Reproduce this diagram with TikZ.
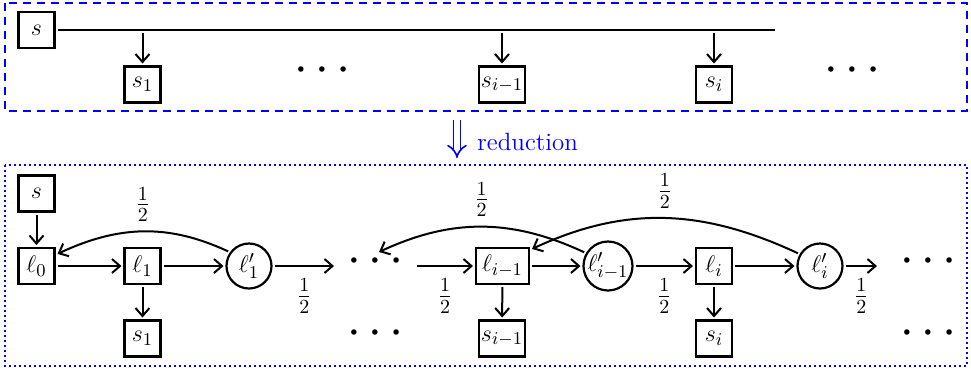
\documentclass[tikz,border=0pt]{standalone}
\usetikzlibrary{arrows.meta}
\definecolor{frameblue}{RGB}{0,0,255}
\newcommand{\mydots}{\mbox{\fontsize{6.5}{7}\selectfont$\bullet$\hspace{6.75pt}$\bullet$\hspace{6.75pt}$\bullet$}}
\begin{document}
\begin{tikzpicture}[x=0.5pt,y=-0.5pt,
  every node/.style={font=\fontsize{12.5}{14}\selectfont},
  sq/.style={draw, line width=1.1pt, minimum size=18pt, inner sep=1pt, outer sep=1.5pt},
  cir/.style={draw, circle, line width=1.1pt, minimum size=22.5pt, inner sep=0pt, outer sep=1.5pt},
  dotsnode/.style={inner sep=0pt},
  arr/.style={-{Straight Barb[length=4pt,width=7pt]}, line width=1pt},
  plain/.style={line width=1pt},
  frac/.style={inner sep=3pt, font=\fontsize{14.5}{16}\selectfont},
]
\useasboundingbox (0,0) rectangle (971,371);
% frames
\draw[frameblue, line width=1pt, dash pattern=on 4pt off 3pt] (5,3) rectangle (967,111);
\draw[frameblue, line width=1pt, dash pattern=on 1pt off 1.5pt] (5,165) rectangle (967,366);

% top part
\node[sq] (st) at (36.5,30) {$s$};
\node[sq] (s1t) at (142.5,84.5) {$s_1$};
\node[sq] (sim1t) at (502,84.5) {$s_{i-1}$};
\node[sq] (sit) at (714,84.5) {$s_i$};
\node[dotsnode] (dt1) at (322,70) {\mydots};
\node[dotsnode] (dt2) at (852,70) {\mydots};
\coordinate (lineend) at (775,30);
\coordinate (b1) at (142.5,30);
\coordinate (bim1) at (502,30);
\coordinate (bi) at (714,30);
\draw[plain] (st) -- (lineend);
\draw[arr, shorten <=1.5pt] (b1) -- (s1t);
\draw[arr, shorten <=1.5pt] (bim1) -- (sim1t);
\draw[arr, shorten <=1.5pt] (bi) -- (sit);

% reduction arrow
\coordinate (ra) at (457,120);
\coordinate (rb) at (457,158);
\draw[frameblue, line width=0.8pt, double distance=2.6pt, -{Implies[scale=1.6]}] (ra) -- (rb);
\node[text=frameblue, anchor=base west, inner sep=0pt] (red) at (477,150) {reduction};

% bottom part
\node[sq] (sb) at (36.5,193.5) {$s$};
\node[sq] (l0) at (36.5,266) {$\ell_0$};
\node[sq] (l1) at (142.5,266) {$\ell_1$};
\node[cir] (l1p) at (249,266) {$\ell'_1$};
\node[dotsnode] (dm) at (375,261) {\mydots};
\node[sq, minimum width=26.5pt] (lim1) at (502.5,266) {$\ell_{i-1}$};
\node[cir, minimum size=24.5pt] (lim1p) at (608,266) {$\ell'_{i-1}$};
\node[sq] (li) at (714,266) {$\ell_i$};
\node[cir] (lip) at (820,266) {$\ell'_i$};
\node[dotsnode] (dr) at (928,261) {\mydots};
\node[sq] (s1b) at (142.5,338.5) {$s_1$};
\node[dotsnode] (dl) at (375,333) {\mydots};
\node[sq] (sim1b) at (502,338.5) {$s_{i-1}$};
\node[sq] (sib) at (714,338.5) {$s_i$};
\node[dotsnode] (dlr) at (928,333) {\mydots};

\coordinate (m1) at (334,266);
\coordinate (m2) at (417,266);
\coordinate (rend) at (877,266);
\coordinate (dmtip) at (379,252);

\draw[arr] (sb) -- (l0);
\draw[arr] (l0) -- (l1);
\draw[arr] (l1) -- (l1p);
\draw[arr] (l1p) -- node[frac, below=3pt] {$\frac12$} (m1);
\draw[arr] (m2) -- node[frac, below=3pt] {$\frac12$} (lim1);
\draw[arr] (lim1) -- (lim1p);
\draw[arr] (lim1p) -- node[frac, below=3pt] {$\frac12$} (li);
\draw[arr] (li) -- (lip);
\draw[arr] (lip) -- node[frac, below=3pt] {$\frac12$} (rend);
\draw[arr] (l1) -- (s1b);
\draw[arr] (lim1) -- (sim1b);
\draw[arr] (li) -- (sib);

\draw[arr] (l1p.145) to[out=155, in=25] node[frac, above=1.5pt] {$\frac12$} (l0.30);
\draw[arr] (lim1p.150) to[out=155, in=25] node[frac, above=1.5pt] {$\frac12$} (dmtip);
\draw[arr] (lip.150) to[out=155, in=25] node[frac, above=1.5pt] {$\frac12$} (lim1.30);
\end{tikzpicture}
\end{document}
